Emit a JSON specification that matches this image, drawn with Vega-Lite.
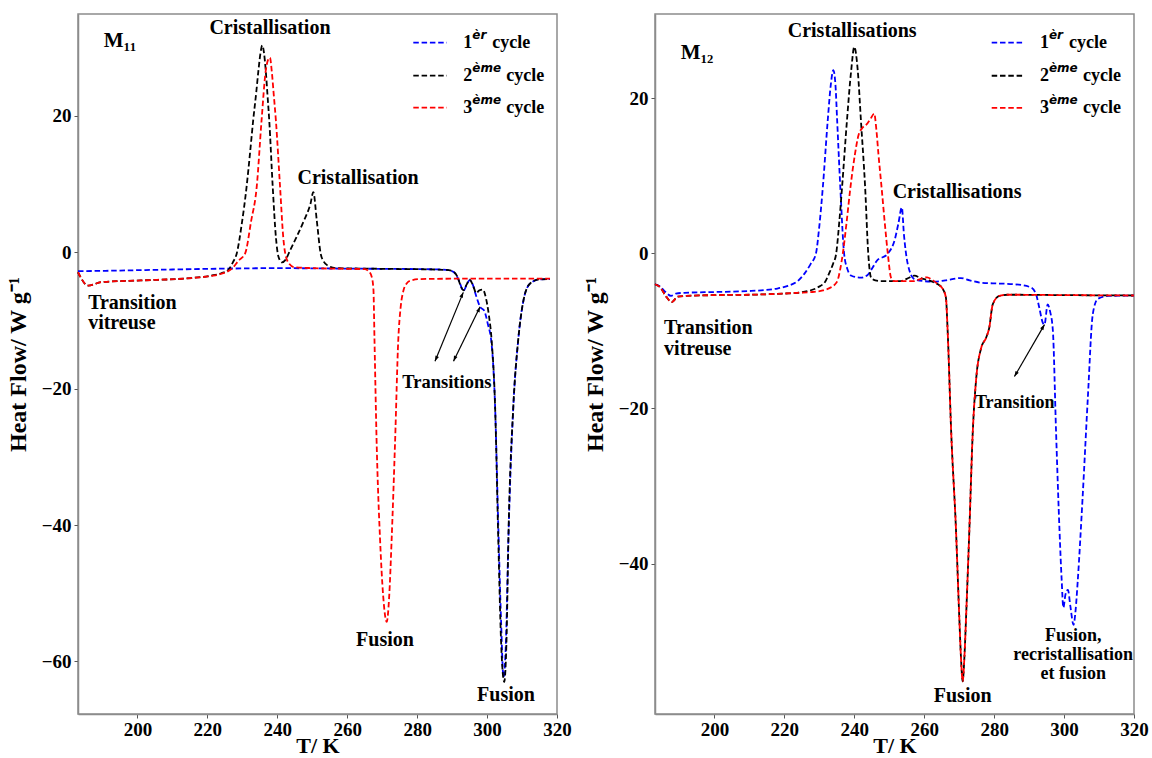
{
  "$schema": "https://vega.github.io/schema/vega-lite/v6.json",
  "padding": {"left": 5, "top": 13, "right": 0, "bottom": 0},
  "spacing": 10,
  "config": {
    "view": {"stroke": "#8c8c8c", "strokeWidth": 1.5},
    "font": "Liberation Serif",
    "axis": {"labelFont": "Liberation Serif", "labelFontSize": 19, "labelFontWeight": "bold", "labelColor": "#000000", "titleFont": "Liberation Serif", "titleFontSize": 22, "titleFontWeight": "bold", "titleColor": "#000000", "domainColor": "#8c8c8c", "domainWidth": 1.5, "tickColor": "#555555", "grid": false, "labelFlush": false, "labelOverlap": false},
    "text": {"font": "Liberation Serif", "fontWeight": "bold", "color": "#000000"}
  },
  "datasets": {
    "curves": [
      {"p":"M11","c":"1","x":183,"y":-2.8},{"p":"M11","c":"1","x":195,"y":-2.7},{"p":"M11","c":"1","x":210,"y":-2.55},{"p":"M11","c":"1","x":225,"y":-2.42},{"p":"M11","c":"1","x":240,"y":-2.35},{"p":"M11","c":"1","x":255,"y":-2.4},{"p":"M11","c":"1","x":270,"y":-2.45},{"p":"M11","c":"1","x":282,"y":-2.5},{"p":"M11","c":"1","x":287,"y":-2.55},{"p":"M11","c":"1","x":289.5,"y":-2.7},{"p":"M11","c":"1","x":291,"y":-3.2},{"p":"M11","c":"1","x":292.2,"y":-4.5},{"p":"M11","c":"1","x":293.2,"y":-5.7},{"p":"M11","c":"1","x":294.1,"y":-4.9},{"p":"M11","c":"1","x":295,"y":-4.1},{"p":"M11","c":"1","x":295.8,"y":-4.6},{"p":"M11","c":"1","x":296.8,"y":-6.3},{"p":"M11","c":"1","x":298,"y":-8.0},{"p":"M11","c":"1","x":299.2,"y":-8.6},{"p":"M11","c":"1","x":300.2,"y":-10.5},{"p":"M11","c":"1","x":301.3,"y":-13.5},{"p":"M11","c":"1","x":302.3,"y":-22.7},{"p":"M11","c":"1","x":303.2,"y":-40},{"p":"M11","c":"1","x":304,"y":-54},{"p":"M11","c":"1","x":304.7,"y":-62.3},{"p":"M11","c":"1","x":305.4,"y":-57},{"p":"M11","c":"1","x":306.1,"y":-42},{"p":"M11","c":"1","x":307.5,"y":-22.7},{"p":"M11","c":"1","x":308.9,"y":-12.9},{"p":"M11","c":"1","x":310.4,"y":-7.1},{"p":"M11","c":"1","x":312.3,"y":-4.6},{"p":"M11","c":"1","x":315,"y":-4.0},{"p":"M11","c":"1","x":318,"y":-3.95},

      {"p":"M11","c":"2","x":183,"y":-2.95},{"p":"M11","c":"2","x":185.9,"y":-4.9},{"p":"M11","c":"2","x":189.8,"y":-4.4},{"p":"M11","c":"2","x":201,"y":-4.15},{"p":"M11","c":"2","x":215.5,"y":-3.8},{"p":"M11","c":"2","x":221,"y":-3.45},{"p":"M11","c":"2","x":224,"y":-3.1},{"p":"M11","c":"2","x":226,"y":-2.6},{"p":"M11","c":"2","x":227.3,"y":-1.5},{"p":"M11","c":"2","x":228.4,"y":-0.2},{"p":"M11","c":"2","x":229.8,"y":4.0},{"p":"M11","c":"2","x":231.2,"y":9.5},{"p":"M11","c":"2","x":232.2,"y":14.5},{"p":"M11","c":"2","x":233.1,"y":19.3},{"p":"M11","c":"2","x":234,"y":23.5},{"p":"M11","c":"2","x":234.6,"y":26.6},{"p":"M11","c":"2","x":235.2,"y":29.2},{"p":"M11","c":"2","x":235.7,"y":30.3},{"p":"M11","c":"2","x":236.2,"y":29.2},{"p":"M11","c":"2","x":236.7,"y":26.6},{"p":"M11","c":"2","x":237.2,"y":23},{"p":"M11","c":"2","x":237.7,"y":19.3},{"p":"M11","c":"2","x":238.7,"y":9.5},{"p":"M11","c":"2","x":239.6,"y":2.2},{"p":"M11","c":"2","x":240.3,"y":-0.6},{"p":"M11","c":"2","x":241.3,"y":-1.5},{"p":"M11","c":"2","x":242.4,"y":-1.1},{"p":"M11","c":"2","x":243.6,"y":0.2},{"p":"M11","c":"2","x":245.5,"y":2.2},{"p":"M11","c":"2","x":247.6,"y":4.6},{"p":"M11","c":"2","x":249.5,"y":7.1},{"p":"M11","c":"2","x":250.3,"y":8.8},{"p":"M11","c":"2","x":251.3,"y":4.6},{"p":"M11","c":"2","x":252.4,"y":-0.2},{"p":"M11","c":"2","x":253.3,"y":-1.4},{"p":"M11","c":"2","x":254.5,"y":-2.0},{"p":"M11","c":"2","x":257,"y":-2.35},{"p":"M11","c":"2","x":270,"y":-2.45},{"p":"M11","c":"2","x":285,"y":-2.55},{"p":"M11","c":"2","x":289,"y":-2.65},{"p":"M11","c":"2","x":290.5,"y":-2.9},{"p":"M11","c":"2","x":291.5,"y":-3.6},{"p":"M11","c":"2","x":292.5,"y":-5.0},{"p":"M11","c":"2","x":293.2,"y":-5.6},{"p":"M11","c":"2","x":294.1,"y":-4.8},{"p":"M11","c":"2","x":295,"y":-4.05},{"p":"M11","c":"2","x":296,"y":-4.9},{"p":"M11","c":"2","x":296.9,"y":-6.0},{"p":"M11","c":"2","x":297.8,"y":-5.6},{"p":"M11","c":"2","x":298.8,"y":-5.5},{"p":"M11","c":"2","x":299.7,"y":-6.8},{"p":"M11","c":"2","x":300.5,"y":-9.2},{"p":"M11","c":"2","x":301.3,"y":-12.9},{"p":"M11","c":"2","x":302.3,"y":-22.7},{"p":"M11","c":"2","x":303.2,"y":-42},{"p":"M11","c":"2","x":304,"y":-57},{"p":"M11","c":"2","x":304.9,"y":-63},{"p":"M11","c":"2","x":305.6,"y":-56},{"p":"M11","c":"2","x":306.1,"y":-42},{"p":"M11","c":"2","x":307.5,"y":-22.7},{"p":"M11","c":"2","x":308.9,"y":-12.9},{"p":"M11","c":"2","x":310.4,"y":-7.1},{"p":"M11","c":"2","x":312.3,"y":-4.6},{"p":"M11","c":"2","x":315,"y":-4.0},{"p":"M11","c":"2","x":318,"y":-3.95},

      {"p":"M11","c":"3","x":183,"y":-2.95},{"p":"M11","c":"3","x":185.9,"y":-4.9},{"p":"M11","c":"3","x":189.8,"y":-4.4},{"p":"M11","c":"3","x":201,"y":-4.15},{"p":"M11","c":"3","x":215.5,"y":-3.8},{"p":"M11","c":"3","x":221,"y":-3.5},{"p":"M11","c":"3","x":224.1,"y":-3.17},{"p":"M11","c":"3","x":227,"y":-2.43},{"p":"M11","c":"3","x":229,"y":-1.2},{"p":"M11","c":"3","x":230.8,"y":-0.2},{"p":"M11","c":"3","x":232.5,"y":4.5},{"p":"M11","c":"3","x":234.1,"y":9.5},{"p":"M11","c":"3","x":235.5,"y":19.3},{"p":"M11","c":"3","x":236.7,"y":26.6},{"p":"M11","c":"3","x":237.3,"y":28.1},{"p":"M11","c":"3","x":237.9,"y":28.5},{"p":"M11","c":"3","x":238.4,"y":26.6},{"p":"M11","c":"3","x":239,"y":23},{"p":"M11","c":"3","x":239.6,"y":19.3},{"p":"M11","c":"3","x":240.8,"y":9.5},{"p":"M11","c":"3","x":241.7,"y":2.2},{"p":"M11","c":"3","x":242.9,"y":-1.3},{"p":"M11","c":"3","x":244.8,"y":-2.2},{"p":"M11","c":"3","x":250,"y":-2.35},{"p":"M11","c":"3","x":260,"y":-2.45},{"p":"M11","c":"3","x":265,"y":-2.5},{"p":"M11","c":"3","x":266,"y":-2.75},{"p":"M11","c":"3","x":267,"y":-3.6},{"p":"M11","c":"3","x":267.5,"y":-5.5},{"p":"M11","c":"3","x":267.8,"y":-12.9},{"p":"M11","c":"3","x":268.4,"y":-27.6},{"p":"M11","c":"3","x":269.4,"y":-42.2},{"p":"M11","c":"3","x":270.3,"y":-50.5},{"p":"M11","c":"3","x":271.3,"y":-54.2},{"p":"M11","c":"3","x":272,"y":-50.5},{"p":"M11","c":"3","x":272.7,"y":-42.2},{"p":"M11","c":"3","x":273.7,"y":-27.6},{"p":"M11","c":"3","x":274.6,"y":-12.9},{"p":"M11","c":"3","x":275.3,"y":-8.0},{"p":"M11","c":"3","x":276.1,"y":-5.6},{"p":"M11","c":"3","x":277,"y":-4.6},{"p":"M11","c":"3","x":278,"y":-4.2},{"p":"M11","c":"3","x":281,"y":-3.95},{"p":"M11","c":"3","x":290,"y":-3.9},{"p":"M11","c":"3","x":318,"y":-3.9},

      {"p":"M12","c":"1","x":183,"y":-4.0},{"p":"M12","c":"1","x":184.5,"y":-4.3},{"p":"M12","c":"1","x":186,"y":-5.0},{"p":"M12","c":"1","x":187.6,"y":-5.5},{"p":"M12","c":"1","x":189,"y":-5.2},{"p":"M12","c":"1","x":191.4,"y":-5.1},{"p":"M12","c":"1","x":200,"y":-5.0},{"p":"M12","c":"1","x":210.5,"y":-4.86},{"p":"M12","c":"1","x":218,"y":-4.55},{"p":"M12","c":"1","x":221,"y":-4.2},{"p":"M12","c":"1","x":223.8,"y":-3.6},{"p":"M12","c":"1","x":225.8,"y":-2.6},{"p":"M12","c":"1","x":227.5,"y":-1.4},{"p":"M12","c":"1","x":229,"y":-0.1},{"p":"M12","c":"1","x":230,"y":3.5},{"p":"M12","c":"1","x":231,"y":8.5},{"p":"M12","c":"1","x":232.4,"y":17.1},{"p":"M12","c":"1","x":233.3,"y":21.8},{"p":"M12","c":"1","x":234,"y":23.6},{"p":"M12","c":"1","x":234.6,"y":21.8},{"p":"M12","c":"1","x":235.1,"y":17.1},{"p":"M12","c":"1","x":236,"y":8.5},{"p":"M12","c":"1","x":237.1,"y":-0.1},{"p":"M12","c":"1","x":238,"y":-2.0},{"p":"M12","c":"1","x":239.2,"y":-2.9},{"p":"M12","c":"1","x":241.9,"y":-3.15},{"p":"M12","c":"1","x":243.8,"y":-2.8},{"p":"M12","c":"1","x":245.3,"y":-1.8},{"p":"M12","c":"1","x":246.4,"y":-1.0},{"p":"M12","c":"1","x":249.5,"y":-0.1},{"p":"M12","c":"1","x":251.6,"y":1.8},{"p":"M12","c":"1","x":252.6,"y":3.8},{"p":"M12","c":"1","x":253.6,"y":5.9},{"p":"M12","c":"1","x":254.2,"y":2.4},{"p":"M12","c":"1","x":255.3,"y":-1.4},{"p":"M12","c":"1","x":257.2,"y":-3.35},{"p":"M12","c":"1","x":260,"y":-3.6},{"p":"M12","c":"1","x":262.9,"y":-3.66},{"p":"M12","c":"1","x":266,"y":-3.5},{"p":"M12","c":"1","x":270.5,"y":-3.2},{"p":"M12","c":"1","x":273,"y":-3.5},{"p":"M12","c":"1","x":276.3,"y":-3.8},{"p":"M12","c":"1","x":281,"y":-3.9},{"p":"M12","c":"1","x":285.8,"y":-4.0},{"p":"M12","c":"1","x":290.5,"y":-4.4},{"p":"M12","c":"1","x":292,"y":-5.3},{"p":"M12","c":"1","x":292.9,"y":-7.0},{"p":"M12","c":"1","x":293.9,"y":-8.95},{"p":"M12","c":"1","x":294.4,"y":-9.2},{"p":"M12","c":"1","x":295.3,"y":-6.6},{"p":"M12","c":"1","x":296,"y":-7.5},{"p":"M12","c":"1","x":296.8,"y":-10.0},{"p":"M12","c":"1","x":297.7,"y":-22.9},{"p":"M12","c":"1","x":298.7,"y":-35.8},{"p":"M12","c":"1","x":299.3,"y":-42},{"p":"M12","c":"1","x":299.8,"y":-45.7},{"p":"M12","c":"1","x":300.4,"y":-44},{"p":"M12","c":"1","x":301.1,"y":-43.4},{"p":"M12","c":"1","x":301.8,"y":-45.5},{"p":"M12","c":"1","x":302.7,"y":-47.9},{"p":"M12","c":"1","x":303.3,"y":-46},{"p":"M12","c":"1","x":303.9,"y":-42.3},{"p":"M12","c":"1","x":305.3,"y":-31.5},{"p":"M12","c":"1","x":306.8,"y":-18.6},{"p":"M12","c":"1","x":308.2,"y":-7.9},{"p":"M12","c":"1","x":309.6,"y":-5.9},{"p":"M12","c":"1","x":312.5,"y":-5.5},{"p":"M12","c":"1","x":320,"y":-5.45},

      {"p":"M12","c":"2","x":183,"y":-4.0},{"p":"M12","c":"2","x":184.5,"y":-4.4},{"p":"M12","c":"2","x":186.2,"y":-5.6},{"p":"M12","c":"2","x":187.8,"y":-6.3},{"p":"M12","c":"2","x":189.5,"y":-5.6},{"p":"M12","c":"2","x":192,"y":-5.5},{"p":"M12","c":"2","x":200,"y":-5.4},{"p":"M12","c":"2","x":210,"y":-5.35},{"p":"M12","c":"2","x":220,"y":-5.2},{"p":"M12","c":"2","x":223.8,"y":-5.1},{"p":"M12","c":"2","x":227,"y":-4.85},{"p":"M12","c":"2","x":229.6,"y":-4.4},{"p":"M12","c":"2","x":231.8,"y":-3.57},{"p":"M12","c":"2","x":232.8,"y":-2.6},{"p":"M12","c":"2","x":233.9,"y":-1.4},{"p":"M12","c":"2","x":234.8,"y":-0.1},{"p":"M12","c":"2","x":235.7,"y":4},{"p":"M12","c":"2","x":236.5,"y":8.5},{"p":"M12","c":"2","x":237.9,"y":17.1},{"p":"M12","c":"2","x":239.1,"y":23.5},{"p":"M12","c":"2","x":240,"y":26.6},{"p":"M12","c":"2","x":241,"y":23.5},{"p":"M12","c":"2","x":241.9,"y":17.1},{"p":"M12","c":"2","x":243.1,"y":8.5},{"p":"M12","c":"2","x":244,"y":-0.1},{"p":"M12","c":"2","x":244.8,"y":-3.15},{"p":"M12","c":"2","x":246,"y":-3.5},{"p":"M12","c":"2","x":247.6,"y":-3.6},{"p":"M12","c":"2","x":253,"y":-3.6},{"p":"M12","c":"2","x":255,"y":-3.3},{"p":"M12","c":"2","x":257.2,"y":-2.9},{"p":"M12","c":"2","x":259,"y":-3.2},{"p":"M12","c":"2","x":261,"y":-3.45},{"p":"M12","c":"2","x":262.5,"y":-3.7},{"p":"M12","c":"2","x":263.9,"y":-4.0},{"p":"M12","c":"2","x":265.3,"y":-4.6},{"p":"M12","c":"2","x":266.2,"y":-5.7},{"p":"M12","c":"2","x":266.7,"y":-10},{"p":"M12","c":"2","x":267.7,"y":-22.9},{"p":"M12","c":"2","x":269.1,"y":-35.8},{"p":"M12","c":"2","x":270,"y":-46.6},{"p":"M12","c":"2","x":270.5,"y":-52},{"p":"M12","c":"2","x":271,"y":-55.2},{"p":"M12","c":"2","x":271.5,"y":-52},{"p":"M12","c":"2","x":272,"y":-46.6},{"p":"M12","c":"2","x":272.9,"y":-35.8},{"p":"M12","c":"2","x":273.9,"y":-22.9},{"p":"M12","c":"2","x":274.8,"y":-16.5},{"p":"M12","c":"2","x":276.3,"y":-12.2},{"p":"M12","c":"2","x":277.7,"y":-10.9},{"p":"M12","c":"2","x":278.6,"y":-9.6},{"p":"M12","c":"2","x":279.6,"y":-6.6},{"p":"M12","c":"2","x":281.5,"y":-5.5},{"p":"M12","c":"2","x":283.9,"y":-5.35},{"p":"M12","c":"2","x":300,"y":-5.4},{"p":"M12","c":"2","x":320,"y":-5.45},

      {"p":"M12","c":"3","x":183,"y":-4.0},{"p":"M12","c":"3","x":184.5,"y":-4.4},{"p":"M12","c":"3","x":186.2,"y":-5.6},{"p":"M12","c":"3","x":187.8,"y":-6.3},{"p":"M12","c":"3","x":189.5,"y":-5.6},{"p":"M12","c":"3","x":192,"y":-5.5},{"p":"M12","c":"3","x":200,"y":-5.4},{"p":"M12","c":"3","x":210,"y":-5.35},{"p":"M12","c":"3","x":220,"y":-5.2},{"p":"M12","c":"3","x":223.8,"y":-5.1},{"p":"M12","c":"3","x":228,"y":-5.0},{"p":"M12","c":"3","x":231,"y":-4.8},{"p":"M12","c":"3","x":233.3,"y":-4.4},{"p":"M12","c":"3","x":234.5,"y":-4.0},{"p":"M12","c":"3","x":235.3,"y":-3.4},{"p":"M12","c":"3","x":236,"y":-2.0},{"p":"M12","c":"3","x":236.7,"y":-0.1},{"p":"M12","c":"3","x":237.8,"y":4},{"p":"M12","c":"3","x":238.9,"y":8.5},{"p":"M12","c":"3","x":240.2,"y":12.8},{"p":"M12","c":"3","x":241.2,"y":15.2},{"p":"M12","c":"3","x":242.4,"y":16.2},{"p":"M12","c":"3","x":243.5,"y":16.6},{"p":"M12","c":"3","x":244.6,"y":17.3},{"p":"M12","c":"3","x":245.7,"y":18.0},{"p":"M12","c":"3","x":246.3,"y":16},{"p":"M12","c":"3","x":246.9,"y":12.8},{"p":"M12","c":"3","x":247.8,"y":8.5},{"p":"M12","c":"3","x":248.7,"y":4},{"p":"M12","c":"3","x":249.6,"y":-0.1},{"p":"M12","c":"3","x":250.5,"y":-3.15},{"p":"M12","c":"3","x":251.4,"y":-3.6},{"p":"M12","c":"3","x":257,"y":-3.6},{"p":"M12","c":"3","x":259,"y":-3.3},{"p":"M12","c":"3","x":260.8,"y":-3.1},{"p":"M12","c":"3","x":262.5,"y":-3.5},{"p":"M12","c":"3","x":263.9,"y":-4.0},{"p":"M12","c":"3","x":265.3,"y":-4.6},{"p":"M12","c":"3","x":266.2,"y":-5.7},{"p":"M12","c":"3","x":266.7,"y":-10},{"p":"M12","c":"3","x":267.7,"y":-22.9},{"p":"M12","c":"3","x":269.1,"y":-35.8},{"p":"M12","c":"3","x":270,"y":-46.6},{"p":"M12","c":"3","x":270.5,"y":-52},{"p":"M12","c":"3","x":271,"y":-55.2},{"p":"M12","c":"3","x":271.5,"y":-52},{"p":"M12","c":"3","x":272,"y":-46.6},{"p":"M12","c":"3","x":272.9,"y":-35.8},{"p":"M12","c":"3","x":273.9,"y":-22.9},{"p":"M12","c":"3","x":274.8,"y":-16.5},{"p":"M12","c":"3","x":276.3,"y":-12.2},{"p":"M12","c":"3","x":277.7,"y":-10.9},{"p":"M12","c":"3","x":278.6,"y":-9.6},{"p":"M12","c":"3","x":279.6,"y":-6.6},{"p":"M12","c":"3","x":281.5,"y":-5.5},{"p":"M12","c":"3","x":283.9,"y":-5.35},{"p":"M12","c":"3","x":300,"y":-5.4},{"p":"M12","c":"3","x":320,"y":-5.45}
    ],
    "labels": [
      {"p":"M11","k":"id","x":190.4,"y":31.0,"t":"M₁₁"},
      {"p":"M11","k":"main","x":237.9,"y":32.9,"t":"Cristallisation"},
      {"p":"M11","k":"main","x":263.1,"y":10.9,"t":"Cristallisation"},
      {"p":"M11","k":"glass","x":185.9,"y":-7.5,"t":"Transition\n\u00a0vitreuse"},
      {"p":"M11","k":"small","x":288.5,"y":-19.1,"t":"Transitions"},
      {"p":"M11","k":"main","x":270.8,"y":-56.9,"t":"Fusion"},
      {"p":"M11","k":"main","x":305.4,"y":-64.9,"t":"Fusion"},
      {"p":"M12","k":"id","x":190.4,"y":25.85,"t":"M₁₂"},
      {"p":"M12","k":"main","x":239.4,"y":28.7,"t":"Cristallisations"},
      {"p":"M12","k":"main","x":269.4,"y":7.9,"t":"Cristallisations"},
      {"p":"M12","k":"glass","x":185.6,"y":-9.6,"t":"Transition\n\u00a0vitreuse"},
      {"p":"M12","k":"small","x":285.9,"y":-19.3,"t":"Transition"},
      {"p":"M12","k":"main","x":271.0,"y":-57.1,"t":"Fusion"},
      {"p":"M12","k":"multi","x":302.6,"y":-49.4,"t":"Fusion,\nrecristallisation\net fusion"}
    ],
    "arrows": [
      {"p":"M11","id":"a1","e":"tail","x":285.1,"y":-16.0},{"p":"M11","id":"a1","e":"head","x":293.2,"y":-5.9},
      {"p":"M11","id":"a2","e":"tail","x":290.4,"y":-16.0},{"p":"M11","id":"a2","e":"head","x":298.0,"y":-8.0},
      {"p":"M12","id":"a3","e":"tail","x":285.8,"y":-15.9},{"p":"M12","id":"a3","e":"head","x":294.4,"y":-9.2}
    ],
    "legendLines": [
      {"p":"M11","c":"1","x":278.9,"x2":288.5,"y":30.7},
      {"p":"M11","c":"2","x":278.9,"x2":288.5,"y":25.87},
      {"p":"M11","c":"3","x":278.9,"x2":288.5,"y":21.18},
      {"p":"M12","c":"1","x":279.3,"x2":288.7,"y":27.14},
      {"p":"M12","c":"2","x":279.3,"x2":288.7,"y":22.88},
      {"p":"M12","c":"3","x":279.3,"x2":288.7,"y":18.75}
    ],
    "legendText": [
      {"p":"M11","c":"1","x":293.2,"y":30.7,"num":"1","sup":"èr","w":"cycle"},
      {"p":"M11","c":"2","x":293.2,"y":25.87,"num":"2","sup":"ème","w":"cycle"},
      {"p":"M11","c":"3","x":293.2,"y":21.18,"num":"3","sup":"ème","w":"cycle"},
      {"p":"M12","c":"1","x":293.1,"y":27.14,"num":"1","sup":"èr","w":"cycle"},
      {"p":"M12","c":"2","x":293.1,"y":22.88,"num":"2","sup":"ème","w":"cycle"},
      {"p":"M12","c":"3","x":293.1,"y":18.75,"num":"3","sup":"ème","w":"cycle"}
    ]
  },
  "hconcat": [
    {
      "width": 479, "height": 700,
      "encoding": {
        "x": {"field": "x", "type": "quantitative", "scale": {"domain": [183, 320], "nice": false, "zero": false}, "axis": {"title": "T/ K", "values": [200, 220, 240, 260, 280, 300, 320], "tickSize": 4, "labelPadding": 2, "titlePadding": -4}},
        "y": {"field": "y", "type": "quantitative", "scale": {"domain": [-67.7, 34.9], "nice": false, "zero": false}, "axis": {"title": "Heat Flow/ W g⁻¹", "titleFontSize": 24, "values": [-60, -40, -20, 0, 20], "tickSize": 4, "labelPadding": 3, "titlePadding": 11}}
      },
      "layer": [
        {"data": {"name": "curves"}, "transform": [{"filter": "datum.p == 'M11' && datum.c == '1'"}], "mark": {"type": "line", "strokeDash": [5.5, 2.8], "strokeWidth": 1.8, "interpolate": "monotone"}, "encoding": {"color": {"field": "c", "type": "nominal", "scale": {"domain": ["1", "2", "3"], "range": ["#0000ff", "#000000", "#ff0000"]}, "legend": null}}},
        {"data": {"name": "curves"}, "transform": [{"filter": "datum.p == 'M11' && datum.c == '2'"}], "mark": {"type": "line", "strokeDash": [5.5, 2.8], "strokeWidth": 1.8, "interpolate": "monotone"}, "encoding": {"color": {"field": "c", "type": "nominal", "legend": null}}},
        {"data": {"name": "curves"}, "transform": [{"filter": "datum.p == 'M11' && datum.c == '3'"}], "mark": {"type": "line", "strokeDash": [5.5, 2.8], "strokeWidth": 1.8, "interpolate": "monotone"}, "encoding": {"color": {"field": "c", "type": "nominal", "legend": null}}},
        {"data": {"name": "arrows"}, "transform": [{"filter": "datum.p == 'M11'"}], "mark": {"type": "line", "color": "#000000", "strokeWidth": 1.2}, "encoding": {"detail": {"field": "id"}}},
        {"data": {"name": "arrows"}, "transform": [{"filter": "datum.p == 'M11' && datum.e == 'head'"}], "mark": {"type": "point", "shape": "M0,0L0.45,1.3L-0.45,1.3Z", "filled": true, "color": "#000000", "opacity": 1, "size": 70, "angle": 24}, "encoding": {}},
        {"data": {"name": "arrows"}, "transform": [{"filter": "datum.p == 'M11' && datum.e == 'tail'"}], "mark": {"type": "point", "shape": "M0,0L0.45,1.3L-0.45,1.3Z", "filled": true, "color": "#000000", "opacity": 1, "size": 70, "angle": 204}, "encoding": {}},
        {"data": {"name": "labels"}, "transform": [{"filter": "datum.p == 'M11' && datum.k == 'id'"}], "mark": {"type": "text", "align": "left", "baseline": "middle", "fontSize": 21}, "encoding": {"text": {"field": "t"}}},
        {"data": {"name": "labels"}, "transform": [{"filter": "datum.p == 'M11' && datum.k == 'main'"}], "mark": {"type": "text", "align": "center", "baseline": "middle", "fontSize": 20}, "encoding": {"text": {"field": "t"}}},
        {"data": {"name": "labels"}, "transform": [{"filter": "datum.p == 'M11' && datum.k == 'glass'"}], "mark": {"type": "text", "align": "left", "baseline": "middle", "fontSize": 20, "lineBreak": "\n", "lineHeight": 20}, "encoding": {"text": {"field": "t"}}},
        {"data": {"name": "labels"}, "transform": [{"filter": "datum.p == 'M11' && datum.k == 'small'"}], "mark": {"type": "text", "align": "center", "baseline": "middle", "fontSize": 18.5}, "encoding": {"text": {"field": "t"}}},
        {"data": {"name": "legendLines"}, "transform": [{"filter": "datum.p == 'M11'"}], "mark": {"type": "rule", "strokeDash": [5.5, 2.8], "strokeWidth": 1.8}, "encoding": {"x2": {"field": "x2"}, "color": {"field": "c", "type": "nominal", "legend": null}}},
        {"data": {"name": "legendText"}, "transform": [{"filter": "datum.p == 'M11'"}], "mark": {"type": "text", "align": "left", "baseline": "middle", "fontSize": 18}, "encoding": {"text": {"field": "num"}}},
        {"data": {"name": "legendText"}, "transform": [{"filter": "datum.p == 'M11'"}], "mark": {"type": "text", "align": "left", "baseline": "middle", "fontSize": 12, "font": "DejaVu Sans", "fontStyle": "italic", "dx": 9, "dy": -8}, "encoding": {"text": {"field": "sup"}}},
        {"data": {"name": "legendText"}, "transform": [{"filter": "datum.p == 'M11' && datum.c == '1'"}], "mark": {"type": "text", "align": "left", "baseline": "middle", "fontSize": 18, "dx": 29}, "encoding": {"text": {"field": "w"}}},
        {"data": {"name": "legendText"}, "transform": [{"filter": "datum.p == 'M11' && datum.c != '1'"}], "mark": {"type": "text", "align": "left", "baseline": "middle", "fontSize": 18, "dx": 43}, "encoding": {"text": {"field": "w"}}}
      ]
    },
    {
      "width": 479, "height": 700,
      "encoding": {
        "x": {"field": "x", "type": "quantitative", "scale": {"domain": [183, 320], "nice": false, "zero": false}, "axis": {"title": "T/ K", "values": [200, 220, 240, 260, 280, 300, 320], "tickSize": 4, "labelPadding": 2, "titlePadding": -4}},
        "y": {"field": "y", "type": "quantitative", "scale": {"domain": [-59.4, 30.84], "nice": false, "zero": false}, "axis": {"title": "Heat Flow/ W g⁻¹", "titleFontSize": 24, "values": [-40, -20, 0, 20], "tickSize": 4, "labelPadding": 3, "titlePadding": 11}}
      },
      "layer": [
        {"data": {"name": "curves"}, "transform": [{"filter": "datum.p == 'M12' && datum.c == '1'"}], "mark": {"type": "line", "strokeDash": [5.5, 2.8], "strokeWidth": 1.8, "interpolate": "monotone"}, "encoding": {"color": {"field": "c", "type": "nominal", "scale": {"domain": ["1", "2", "3"], "range": ["#0000ff", "#000000", "#ff0000"]}, "legend": null}}},
        {"data": {"name": "curves"}, "transform": [{"filter": "datum.p == 'M12' && datum.c == '2'"}], "mark": {"type": "line", "strokeDash": [5.5, 2.8], "strokeWidth": 1.8, "interpolate": "monotone"}, "encoding": {"color": {"field": "c", "type": "nominal", "legend": null}}},
        {"data": {"name": "curves"}, "transform": [{"filter": "datum.p == 'M12' && datum.c == '3'"}], "mark": {"type": "line", "strokeDash": [5.5, 2.8], "strokeWidth": 1.8, "interpolate": "monotone"}, "encoding": {"color": {"field": "c", "type": "nominal", "legend": null}}},
        {"data": {"name": "arrows"}, "transform": [{"filter": "datum.p == 'M12'"}], "mark": {"type": "line", "color": "#000000", "strokeWidth": 1.2}, "encoding": {"detail": {"field": "id"}}},
        {"data": {"name": "arrows"}, "transform": [{"filter": "datum.p == 'M12' && datum.e == 'head'"}], "mark": {"type": "point", "shape": "M0,0L0.45,1.3L-0.45,1.3Z", "filled": true, "color": "#000000", "opacity": 1, "size": 70, "angle": 30}, "encoding": {}},
        {"data": {"name": "arrows"}, "transform": [{"filter": "datum.p == 'M12' && datum.e == 'tail'"}], "mark": {"type": "point", "shape": "M0,0L0.45,1.3L-0.45,1.3Z", "filled": true, "color": "#000000", "opacity": 1, "size": 70, "angle": 210}, "encoding": {}},
        {"data": {"name": "labels"}, "transform": [{"filter": "datum.p == 'M12' && datum.k == 'id'"}], "mark": {"type": "text", "align": "left", "baseline": "middle", "fontSize": 21}, "encoding": {"text": {"field": "t"}}},
        {"data": {"name": "labels"}, "transform": [{"filter": "datum.p == 'M12' && datum.k == 'main'"}], "mark": {"type": "text", "align": "center", "baseline": "middle", "fontSize": 20}, "encoding": {"text": {"field": "t"}}},
        {"data": {"name": "labels"}, "transform": [{"filter": "datum.p == 'M12' && datum.k == 'glass'"}], "mark": {"type": "text", "align": "left", "baseline": "middle", "fontSize": 20, "lineBreak": "\n", "lineHeight": 21}, "encoding": {"text": {"field": "t"}}},
        {"data": {"name": "labels"}, "transform": [{"filter": "datum.p == 'M12' && datum.k == 'small'"}], "mark": {"type": "text", "align": "center", "baseline": "middle", "fontSize": 18}, "encoding": {"text": {"field": "t"}}},
        {"data": {"name": "labels"}, "transform": [{"filter": "datum.p == 'M12' && datum.k == 'multi'"}], "mark": {"type": "text", "align": "center", "baseline": "middle", "fontSize": 18, "lineBreak": "\n", "lineHeight": 19}, "encoding": {"text": {"field": "t"}}},
        {"data": {"name": "legendLines"}, "transform": [{"filter": "datum.p == 'M12'"}], "mark": {"type": "rule", "strokeDash": [5.5, 2.8], "strokeWidth": 1.8}, "encoding": {"x2": {"field": "x2"}, "color": {"field": "c", "type": "nominal", "legend": null}}},
        {"data": {"name": "legendText"}, "transform": [{"filter": "datum.p == 'M12'"}], "mark": {"type": "text", "align": "left", "baseline": "middle", "fontSize": 18}, "encoding": {"text": {"field": "num"}}},
        {"data": {"name": "legendText"}, "transform": [{"filter": "datum.p == 'M12'"}], "mark": {"type": "text", "align": "left", "baseline": "middle", "fontSize": 12, "font": "DejaVu Sans", "fontStyle": "italic", "dx": 9, "dy": -8}, "encoding": {"text": {"field": "sup"}}},
        {"data": {"name": "legendText"}, "transform": [{"filter": "datum.p == 'M12' && datum.c == '1'"}], "mark": {"type": "text", "align": "left", "baseline": "middle", "fontSize": 18, "dx": 29}, "encoding": {"text": {"field": "w"}}},
        {"data": {"name": "legendText"}, "transform": [{"filter": "datum.p == 'M12' && datum.c != '1'"}], "mark": {"type": "text", "align": "left", "baseline": "middle", "fontSize": 18, "dx": 43}, "encoding": {"text": {"field": "w"}}}
      ]
    }
  ]
}
